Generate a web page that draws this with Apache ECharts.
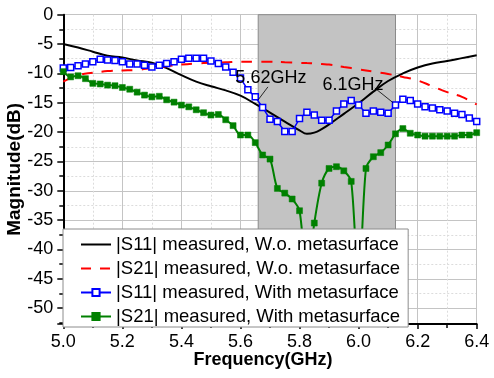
<!DOCTYPE html>
<html><head><meta charset="utf-8">
<script src="https://cdn.jsdelivr.net/npm/echarts@6/dist/echarts.min.js"></script>
<style>html,body{margin:0;padding:0;background:#fff}#c{width:494px;height:378px}</style>
</head><body><div id="c"></div>
<script>
// ---- data ----
const seriesNames = [
  '|S11| measured, W.o. metasurface',
  '|S21| measured, W.o. metasurface',
  '|S11| measured, With metasurface',
  '|S21| measured, With metasurface'
];
const freqWo = [5.00,5.05,5.10,5.15,5.20,5.25,5.30,5.35,5.40,5.45,5.50,5.55,5.60,5.65,5.70,5.75,5.80,5.825,5.85,5.875,5.90,5.95,6.00,6.05,6.10,6.15,6.20,6.25,6.30,6.35,6.40];
const s11Wo = [-5.0,-5.6,-6.3,-7.0,-7.3,-7.8,-8.2,-9.1,-10.3,-11.4,-12.2,-12.9,-13.8,-15.2,-16.7,-18.2,-19.7,-20.3,-20.1,-19.5,-18.7,-16.9,-15.1,-13.1,-11.3,-10.0,-9.0,-8.3,-7.9,-7.4,-6.9];
const s21Wo = [-11.4,-10.3,-9.9,-9.6,-9.5,-9.4,-9.1,-8.8,-8.5,-8.3,-8.2,-8.1,-8.0,-8.0,-8.0,-8.1,-8.2,-8.25,-8.3,-8.4,-8.5,-8.9,-9.3,-9.7,-10.1,-10.6,-11.2,-12.2,-13.2,-14.0,-15.3];
const freqWith = [5.000,5.025,5.050,5.075,5.100,5.125,5.150,5.175,5.200,5.225,5.250,5.275,5.300,5.325,5.350,5.375,5.400,5.425,5.450,5.475,5.500,5.525,5.550,5.575,5.600,5.625,5.650,5.675,5.700,5.725,5.750,5.775,5.800,5.825,5.850,5.875,5.900,5.925,5.950,5.975,6.000,6.025,6.050,6.075,6.100,6.125,6.150,6.175,6.200,6.225,6.250,6.275,6.300,6.325,6.350,6.375,6.400];
const s11With = [-9.1,-9.0,-8.7,-8.4,-8.0,-7.6,-7.7,-7.8,-8.0,-8.4,-8.4,-8.6,-8.9,-8.6,-8.3,-8.0,-7.6,-7.4,-7.4,-7.4,-7.9,-8.3,-8.9,-9.8,-10.8,-12.8,-14.0,-15.8,-17.8,-18.2,-19.9,-19.9,-17.7,-16.6,-17.1,-18.0,-18.0,-16.4,-15.2,-14.6,-15.4,-16.8,-16.4,-16.6,-16.8,-15.4,-14.4,-14.6,-15.2,-15.7,-15.9,-16.2,-16.4,-16.8,-17.0,-17.6,-18.2];
const s21With = [-9.7,-10.6,-10.4,-10.9,-11.7,-11.8,-12.0,-12.1,-12.4,-12.7,-13.2,-13.7,-14.0,-13.9,-14.5,-14.9,-15.4,-15.7,-16.2,-16.7,-17.1,-17.0,-17.9,-18.9,-20.5,-20.5,-21.8,-23.9,-24.6,-29.6,-30.4,-31.4,-33.4,-45.0,-35.5,-28.7,-26.2,-25.9,-26.6,-28.4,-47.0,-26.2,-24.2,-23.5,-22.2,-20.3,-19.4,-20.2,-20.5,-20.7,-20.7,-20.7,-20.7,-20.7,-20.5,-20.5,-20.1];
const bandRange = [5.66, 6.125];
const annoText = ['5.62GHz', '6.1GHz'];
const annoTextPos = [[5.703, -10.8], [5.981, -12.0]];
const annoArrowFrom = [[5.693, -12.3], [6.055, -12.5]];
const annoArrowTo = [[5.66, -14.5], [6.117, -15.0]];
const xTicks = {min: 5.0, max: 6.4, step: 0.2};
const yTicks = {top: 0, bottom: -52.7, step: 5};

// The y axis is drawn as an inverted axis of dB attenuation (0 at top) so that
// ticks start from 0; values are negated into it and labels show the sign back.
const att = v => -v;
const zip = (xs, ys) => xs.map((x, i) => [x, att(ys[i])]);
const pt = p => [p[0], att(p[1])];
const font = 'Liberation Sans, Arial, sans-serif';

// legend icons: plain line and dashed line (bounding box 30x9 given by the corner moves)
const iconSolid = 'path://M0,0L0,0M0,3.5L30,3.5L30,5.5L0,5.5ZM30,9L30,9';
const iconDash = 'path://M0,0L0,0M0,3.5L10,3.5L10,5.5L0,5.5ZM19,3.5L29,3.5L29,5.5L19,5.5ZM30,9L30,9';

const chart = echarts.init(document.getElementById('c'), null, {renderer: 'canvas'});
chart.setOption({
  animation: false,
  textStyle: {fontFamily: font},
  grid: {left: 63.3, right: 17.3, top: 14.7, bottom: 54, containLabel: false, outerBoundsMode: 'none'},
  xAxis: {
    type: 'value', min: xTicks.min, max: xTicks.max, interval: xTicks.step,
    name: 'Frequency(GHz)', nameLocation: 'middle', nameGap: 27, nameMoveOverlap: false,
    nameTextStyle: {fontSize: 18, fontWeight: 'bold', color: '#000', fontFamily: font, padding: [0, 14, 0, 0]},
    axisLine: {show: true, onZero: false, lineStyle: {color: '#000', width: 2}},
    axisTick: {show: true, inside: false, length: 5, lineStyle: {color: '#000', width: 1.5}},
    minorTick: {show: true, splitNumber: 2, length: 4, lineStyle: {color: '#000', width: 1.5}},
    axisLabel: {fontSize: 18, color: '#000', margin: 9, fontFamily: font, formatter: v => v.toFixed(1)},
    splitLine: {show: true, lineStyle: {color: '#c4c4c4', width: 1}},
    minorSplitLine: {show: true, lineStyle: {color: '#dcdcdc', width: 1, type: [2, 2]}}
  },
  yAxis: {
    type: 'value', inverse: true, min: att(yTicks.top), max: att(yTicks.bottom), interval: yTicks.step,
    name: 'Magnitude(dB)', nameLocation: 'middle', nameGap: 39, nameMoveOverlap: false,
    nameTextStyle: {fontSize: 19, fontWeight: 'bold', color: '#000', fontFamily: font},
    axisLine: {show: true, onZero: false, lineStyle: {color: '#000', width: 2}},
    axisTick: {show: true, inside: false, length: 6, lineStyle: {color: '#000', width: 1.5}},
    minorTick: {show: true, splitNumber: 2, length: 4, lineStyle: {color: '#000', width: 1.5}},
    axisLabel: {fontSize: 18, color: '#000', margin: 10, fontFamily: font, showMaxLabel: false,
      formatter: v => (v === 0 ? '0' : String(-v))},
    splitLine: {show: true, lineStyle: {color: '#c4c4c4', width: 1}},
    minorSplitLine: {show: true, lineStyle: {color: '#dcdcdc', width: 1, type: [2, 2]}}
  },
  legend: {
    data: [
      {name: seriesNames[0], icon: iconSolid},
      {name: seriesNames[1], icon: iconDash},
      {name: seriesNames[2]},
      {name: seriesNames[3]}
    ],
    orient: 'vertical', left: 63, top: 229,
    padding: [6, 8, 1, 17], itemGap: 5, itemWidth: 30, itemHeight: 9,
    backgroundColor: '#fff', borderColor: '#8c8c8c', borderWidth: 1,
    textStyle: {fontSize: 18.5, color: '#000', fontFamily: font, lineHeight: 18}
  },
  series: [
    {
      type: 'line', data: [], z: -1, silent: true,
      markArea: {silent: true, itemStyle: {color: '#c3c3c3', borderColor: '#8a8a8a', borderWidth: 1},
        data: [[{xAxis: bandRange[0]}, {xAxis: bandRange[1]}]]}
    },
    {
      name: seriesNames[0], type: 'line', data: zip(freqWo, s11Wo), smooth: 0.4,
      symbol: 'none', lineStyle: {color: '#000', width: 2}, itemStyle: {color: '#000'}
    },
    {
      name: seriesNames[1], type: 'line', data: zip(freqWo, s21Wo), smooth: 0.4,
      symbol: 'none', lineStyle: {color: '#ff0000', width: 2, type: [11, 9]}, itemStyle: {color: '#ff0000'}
    },
    {
      name: seriesNames[2], type: 'line', data: zip(freqWith, s11With),
      symbol: 'rect', symbolSize: 6, showAllSymbol: true,
      lineStyle: {color: '#0000ff', width: 1.5},
      itemStyle: {color: '#fff', borderColor: '#0000ff', borderWidth: 1.5},
      markLine: {
        silent: true, symbol: ['none', 'arrow'], symbolSize: [0, 6],
        lineStyle: {color: '#000', width: 0.8, type: 'solid'}, label: {show: false},
        data: annoArrowFrom.map((f, i) => [{coord: pt(f)}, {coord: pt(annoArrowTo[i])}])
      },
      markPoint: {
        silent: true, symbol: 'circle', symbolSize: 0,
        label: {show: true, position: 'inside', color: '#000', fontSize: 18, fontFamily: font, formatter: p => p.name},
        data: annoText.map((t, i) => ({name: t, coord: pt(annoTextPos[i])}))
      }
    },
    {
      name: seriesNames[3], type: 'line', data: zip(freqWith, s21With), smooth: 0.3,
      symbol: 'rect', symbolSize: 6, showAllSymbol: true,
      lineStyle: {color: '#008000', width: 2},
      itemStyle: {color: '#008000', borderColor: '#008000', borderWidth: 0.5}
    }
  ]
});
</script></body></html>
